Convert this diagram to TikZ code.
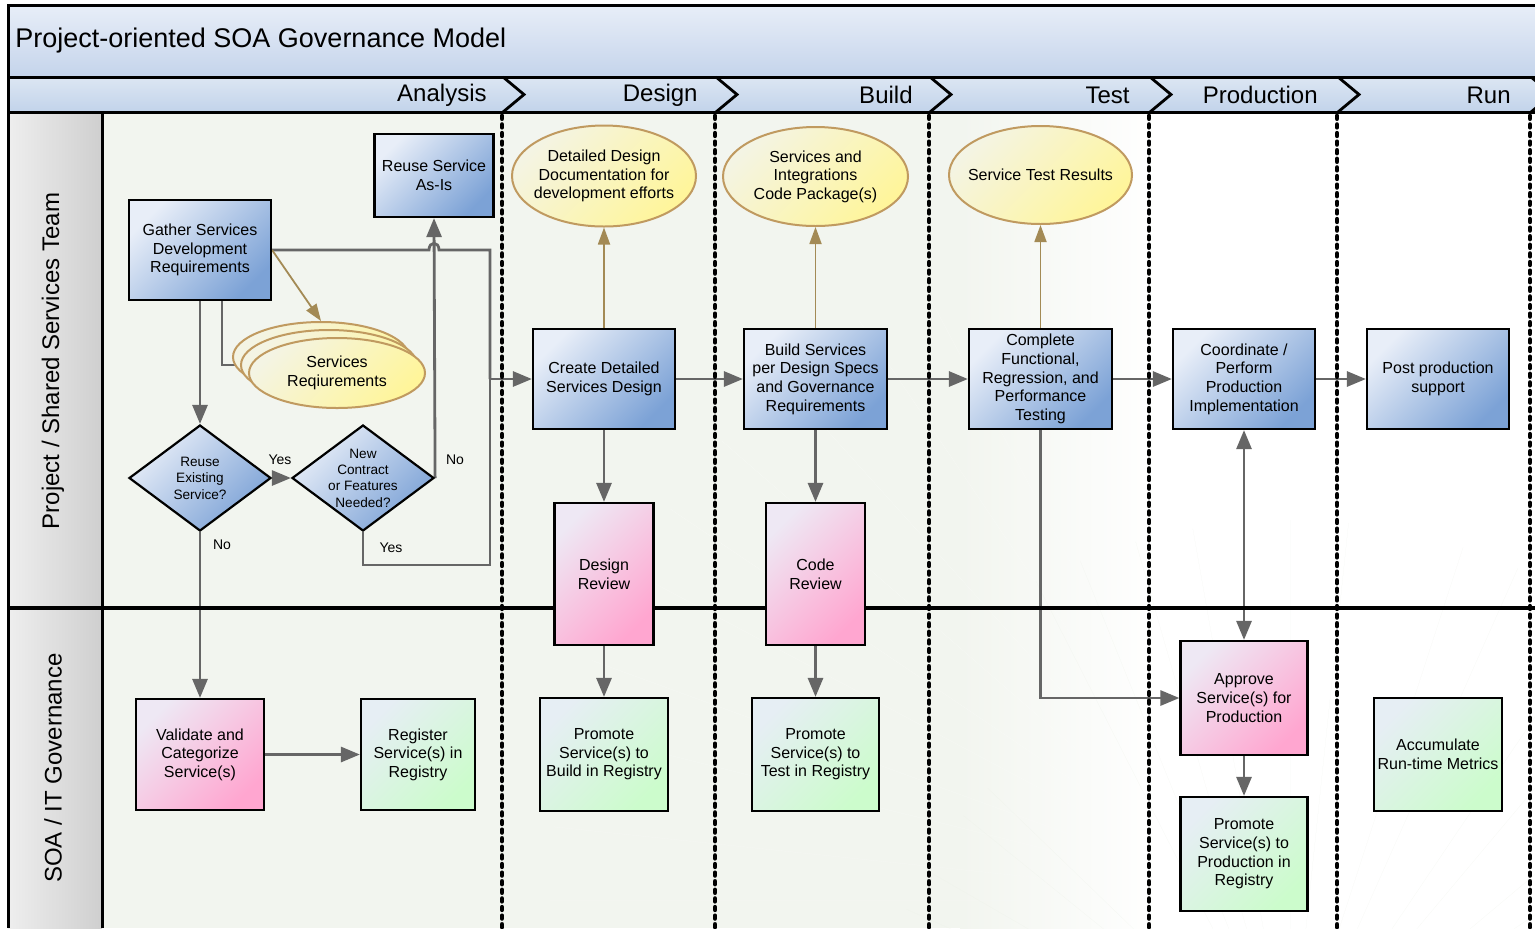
\documentclass[tikz,border=0pt]{standalone}
\usepackage{fontspec}
\setmainfont{Liberation Sans}
\usetikzlibrary{arrows.meta,shapes.geometric}

\definecolor{lanebg}{HTML}{F2F5EF}
\definecolor{leafgreen}{HTML}{EAF0E5}
\definecolor{arrowgray}{HTML}{666666}
\definecolor{tanline}{HTML}{A38A55}
\definecolor{tanedge}{HTML}{C09A60}
\definecolor{bluelt}{HTML}{E8EEF8}
\definecolor{bluedk}{HTML}{7CA2D6}
\definecolor{pinklt}{HTML}{EEE8F4}
\definecolor{pinkdk}{HTML}{FFA6D0}
\definecolor{greenlt}{HTML}{E6EEF4}
\definecolor{greendk}{HTML}{CCFCCC}
\definecolor{yellowlt}{HTML}{F4F4E4}
\definecolor{yellowdk}{HTML}{FFF59A}
\definecolor{titlelt}{HTML}{E8EEF8}
\definecolor{titledk}{HTML}{C4D4EB}
\definecolor{headlt}{HTML}{DCE6F3}
\definecolor{headdk}{HTML}{C2D3EA}
\definecolor{lanelt}{HTML}{EEEEEE}
\definecolor{lanedk}{HTML}{CFCFCF}

\pgfdeclarelayer{bg}
\pgfsetlayers{bg,main}

\tikzset{
  box/.style={rectangle, draw=black, line width=1.1pt, align=center, inner sep=1pt},
  task/.style={box, top color=bluelt, bottom color=bluedk, shading angle=45},
  review/.style={box, top color=pinklt, bottom color=pinkdk, shading angle=45},
  registry/.style={box, top color=greenlt, bottom color=greendk, shading angle=45},
  doc/.style={ellipse, draw=tanedge, line width=1pt, top color=yellowlt, bottom color=yellowdk, shading angle=45, inner sep=0pt},
  doctext/.style={align=center, inner sep=0pt, font=\fontsize{8}{9.3}\selectfont},
  decision/.style={diamond, draw=black, line width=1.1pt, top color=bluelt, bottom color=bluedk, shading angle=45, minimum width=71pt, minimum height=53pt, inner sep=0pt},
  dtext/.style={align=center, inner sep=0pt, font=\fontsize{6.8}{8.2}\selectfont},
  answer/.style={font=\fontsize{7}{8}\selectfont, inner sep=0pt},
  graytip/.tip={Triangle[length=9.5pt,width=7.5pt]},
  flow/.style={draw=arrowgray, line width=1.4pt, -graytip},
  joinline/.style={draw=arrowgray, line width=1.4pt},
  artifact/.style={draw=tanline, line width=0.9pt, -{Triangle[length=8.5pt,width=6pt]}},
  divider/.style={draw=black, line width=2.4pt, line cap=round, dash pattern=on 1.3pt off 3pt},
  frameline/.style={draw=black, line width=1.5pt},
  phase/.style={font=\fontsize{12}{14}\selectfont, anchor=east, inner sep=0pt},
  lanetitle/.style={font=\fontsize{12}{14}\selectfont, rotate=90, inner sep=0pt},
  chevron/.style={draw=black, line width=1.4pt, line join=miter},
  streak/.style={fill=white, opacity=0.7},
  leaf/.style={fill=leafgreen, opacity=0.8},
}

\begin{document}
\begin{tikzpicture}[x=0.5pt, y=-0.5pt, font=\fontsize{8}{9.3}\selectfont]
\useasboundingbox (0,0) rectangle (1535,928);

% ---------- backgrounds ----------
\begin{pgfonlayer}{bg}
  \fill[lanebg] (102,112) rectangle (1535,928);
  \begin{scope}
    \clip (102,112) rectangle (1535,928);
    % fading to white on the right, with a faint palm frond
    \shade[left color=lanebg, right color=white] (960,112) rectangle (1160,928);
    \fill[white] (1160,112) rectangle (1535,928);
    \foreach \a/\b in {118/124, 132/139, 146/152, 160/166, 174/180}
      \fill[streak] (1250,900) -- ++(-\a:700) -- (1250,900) -- ++(-\b:700) -- cycle;
    \foreach \a/\b in {100/106, 84/90, 66/72, 50/56, 34/40, 20/25, 112/117}
      \fill[leaf] (1290,1080) -- ++(-\a:560) -- (1290,1080) -- ++(-\b:560) -- cycle;
    \foreach \a/\b in {150/156, 164/170, 136/141}
      \fill[leaf] (1290,1080) -- ++(-\a:420) -- (1290,1080) -- ++(-\b:420) -- cycle;
  \end{scope}
  % title band and phase header
  \shade[top color=titlelt, bottom color=titledk] (8,5) rectangle (1535,77);
  \shade[top color=headlt, bottom color=headdk] (8,77) rectangle (1535,112);
  % lane title column
  \shade[left color=lanelt, right color=lanedk] (8,112) rectangle (102,928);
\end{pgfonlayer}

% ---------- titles ----------
\node[anchor=west, inner sep=0pt, font=\fontsize{13.5}{15}\selectfont] (title) at (15,41) {Project-oriented SOA Governance Model};
\node[phase] (phA) at (487,95) {Analysis};
\node[phase] (phD) at (698,95) {Design};
\node[phase] (phB) at (913,95) {Build};
\node[phase] (phT) at (1130,95) {Test};
\node[phase] (phP) at (1318,95) {Production};
\node[phase] (phR) at (1511,95) {Run};
\node[lanetitle] (lane1) at (53,361) {Project / Shared Services Team};
\node[lanetitle] (lane2) at (53,768) {SOA / IT Governance};

% ---------- Analysis ----------
\node[task, minimum width=71pt, minimum height=50pt] (gather) at (200,250) {Gather Services\\Development\\Requirements};
\node[task, minimum width=59.5pt, minimum height=41.5pt] (reuse) at (434,175.5) {Reuse Service\\As-Is};
\node[doc, minimum width=88pt, minimum height=35pt] (sreqb) at (321,357) {};
\node[doc, minimum width=88pt, minimum height=35pt] (sreqm) at (329,365) {};
\node[doc, minimum width=88pt, minimum height=35pt, label={[doctext]center:{Services\\Reqiurements}}] (sreq) at (337,373) {};
\node[decision, label={[dtext]center:{Reuse\\Existing\\Service?}}] (d1) at (200,478) {};
\node[decision, label={[dtext]center:{New\\Contract\\or Features\\Needed?}}] (d2) at (363,478) {};
\node[answer] (yes1) at (280,460) {Yes};
\node[answer] (no1) at (222,545) {No};
\node[answer] (no2) at (455,460) {No};
\node[answer] (yes2) at (391,548) {Yes};
\node[review, minimum width=64pt, minimum height=55.5pt] (validate) at (200,754.5) {Validate and\\Categorize\\Service(s)};
\node[registry, minimum width=57pt, minimum height=55.5pt] (register) at (418,754.5) {Register\\Service(s) in\\Registry};

% ---------- Design ----------
\node[task, minimum width=71pt, minimum height=50pt] (create) at (604,379) {Create Detailed\\Services Design};
\node[doc, minimum width=92pt, minimum height=50.5pt, label={[doctext]center:{Detailed Design\\Documentation for\\development efforts}}] (ddoc) at (604,176) {};
\node[review, minimum width=49.5pt, minimum height=71pt] (dreview) at (604,574) {Design\\Review};
\node[registry, minimum width=64pt, minimum height=56.5pt] (promb) at (604,754.5) {Promote\\Service(s) to\\Build in Registry};

% ---------- Build ----------
\node[task, minimum width=71.5pt, minimum height=50pt] (build) at (815.5,379) {Build Services\\per Design Specs\\and Governance\\Requirements};
\node[doc, minimum width=92.5pt, minimum height=49.5pt, label={[doctext]center:{Services and\\Integrations\\Code Package(s)}}] (code) at (815.5,176.5) {};
\node[review, minimum width=49.5pt, minimum height=71pt] (creview) at (815.5,574) {Code\\Review};
\node[registry, minimum width=63.5pt, minimum height=56.5pt] (promt) at (815.5,754.5) {Promote\\Service(s) to\\Test in Registry};

% ---------- Test ----------
\node[task, minimum width=71.5pt, minimum height=50pt] (test) at (1040.5,379) {Complete\\Functional,\\Regression, and\\Performance\\Testing};
\node[doc, minimum width=91.5pt, minimum height=49pt, label={[doctext]center:{Service Test Results}}] (results) at (1040.5,175) {};

% ---------- Production / Run ----------
\node[task, minimum width=71pt, minimum height=50pt] (coord) at (1244,379) {Coordinate /\\Perform\\Production\\Implementation};
\node[task, minimum width=71pt, minimum height=50pt] (post) at (1438,379) {Post production\\support};
\node[review, minimum width=63.5pt, minimum height=57pt] (approve) at (1244,698) {Approve\\Service(s) for\\Production};
\node[registry, minimum width=63.5pt, minimum height=57pt] (promp) at (1244,854) {Promote\\Service(s) to\\Production in\\Registry};
\node[registry, minimum width=64pt, minimum height=56.5pt] (accum) at (1438,754.5) {Accumulate\\Run-time Metrics};

% ---------- connectors, dividers and frame ----------
\begin{pgfonlayer}{bg}
  \coordinate (merge) at (490,379);
  \draw[flow] (gather.south) -- (d1.north);
  \draw[flow] (d1.east) -- (d2.west);
  \draw[flow] (d2.east) -- (reuse.south);
  \draw[joinline] (gather.east) -- (429,250) .. controls (429,241) and (439,241) .. (439,250) -- (490,250) -- (merge);
  \draw[joinline] (d2.south) |- (490,565) -- (merge);
  \draw[flow] (merge) -- (create.west);
  \draw[joinline] ([xshift=11pt]gather.south) |- (sreqm.west);
  \draw[artifact] (gather.east) -- (sreqb.north);
  \draw[flow] (d1.south) -- (validate.north);
  \draw[flow] (validate.east) -- (register.west);

  \draw[flow] (create.east) -- (build.west);
  \draw[flow] (build.east) -- (test.west);
  \draw[flow] (test.east) -- (coord.west);
  \draw[flow] (coord.east) -- (post.west);
  \draw[flow] (create.south) -- (dreview.north);
  \draw[flow] (dreview.south) -- (promb.north);
  \draw[flow] (build.south) -- (creview.north);
  \draw[flow] (creview.south) -- (promt.north);
  \draw[flow] (test.south) |- (approve.west);
  \draw[flow, graytip-graytip] (coord.south) -- (approve.north);
  \draw[flow] (approve.south) -- (promp.north);
  \draw[artifact] (create.north) -- (ddoc.south);
  \draw[artifact] (build.north) -- (code.south);
  \draw[artifact] (test.north) -- (results.south);

  % phase dividers
  \foreach \d in {502,715,929,1149,1337,1530}
    \draw[divider] (\d,116) -- (\d,928);
  % frame
  \draw[frameline] (8,928) -- (8,5) -- (1535,5);
  \draw[frameline] (8,77) -- (1535,77);
  \draw[frameline] (8,112) -- (1535,112);
  \draw[frameline] (102,112) -- (102,928);
  \draw[draw=black, line width=2pt] (8,608) -- (1535,608);
  % phase chevrons
  \foreach \d in {502,715,929,1149,1337,1530}
    \draw[chevron] (\d+1,77) -- (\d+22,94.5) -- (\d+1,112);
\end{pgfonlayer}
\end{tikzpicture}
\end{document}
